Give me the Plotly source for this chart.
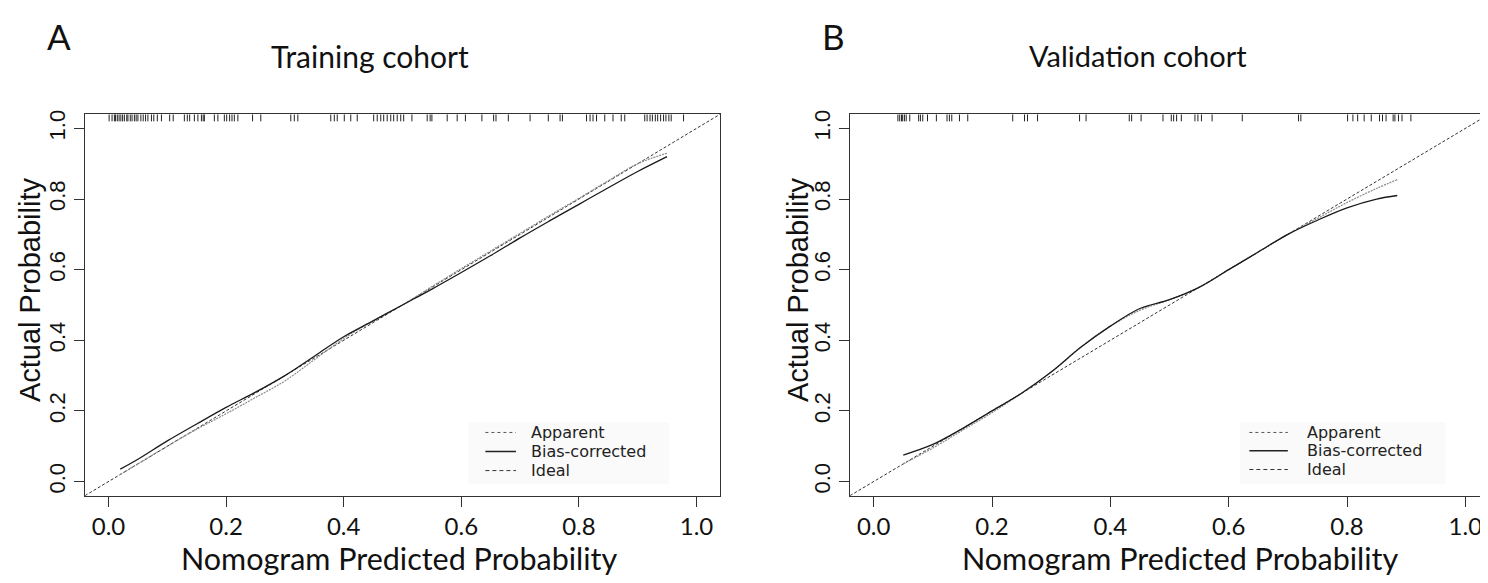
import plotly.graph_objects as go

# ---------------- data ----------------
ticks = [0.0, 0.2, 0.4, 0.6, 0.8, 1.0]
tick_labels = ["0.0", "0.2", "0.4", "0.6", "0.8", "1.0"]
axis_range = [-0.04, 1.04]

train_x = [0.02, 0.05, 0.10, 0.15, 0.20, 0.25, 0.30, 0.35, 0.40, 0.45, 0.50,
           0.55, 0.60, 0.65, 0.70, 0.75, 0.80, 0.85, 0.90, 0.95]
train_apparent = [0.020, 0.050, 0.100, 0.148, 0.192, 0.238, 0.285, 0.345, 0.405, 0.455, 0.500,
                  0.552, 0.603, 0.653, 0.703, 0.753, 0.802, 0.852, 0.900, 0.930]
train_bias = [0.035, 0.063, 0.115, 0.163, 0.210, 0.253, 0.300, 0.355, 0.410, 0.455, 0.500,
              0.545, 0.592, 0.640, 0.690, 0.738, 0.785, 0.832, 0.878, 0.920]

valid_x = [0.05, 0.10, 0.15, 0.20, 0.25, 0.30, 0.35, 0.40, 0.45, 0.50, 0.55,
           0.60, 0.65, 0.70, 0.75, 0.80, 0.85, 0.885]
valid_apparent = [0.050, 0.095, 0.145, 0.195, 0.250, 0.310, 0.380, 0.440, 0.485, 0.515, 0.550,
                  0.600, 0.650, 0.700, 0.745, 0.790, 0.830, 0.855]
valid_bias = [0.075, 0.105, 0.150, 0.200, 0.250, 0.310, 0.380, 0.440, 0.490, 0.515, 0.550,
              0.600, 0.650, 0.700, 0.740, 0.775, 0.800, 0.810]

train_rug = [0.001, 0.006, 0.010, 0.012, 0.015, 0.018, 0.021, 0.024, 0.027, 0.031, 0.033,
             0.037, 0.040, 0.044, 0.047, 0.050, 0.055, 0.059, 0.063, 0.067, 0.073, 0.077,
             0.083, 0.090, 0.104, 0.110, 0.129, 0.134, 0.138, 0.146, 0.152, 0.158, 0.161,
             0.163, 0.180, 0.186, 0.197, 0.201, 0.206, 0.210, 0.214, 0.220, 0.245, 0.259,
             0.310, 0.316, 0.322, 0.378, 0.384, 0.389, 0.401, 0.412, 0.423, 0.451, 0.457,
             0.463, 0.468, 0.474, 0.480, 0.485, 0.491, 0.497, 0.502, 0.516, 0.542, 0.547,
             0.550, 0.576, 0.593, 0.607, 0.635, 0.655, 0.659, 0.680, 0.717, 0.748, 0.768,
             0.772, 0.813, 0.819, 0.824, 0.830, 0.844, 0.858, 0.872, 0.878, 0.912, 0.916,
             0.921, 0.925, 0.930, 0.934, 0.939, 0.944, 0.948, 0.953, 0.957, 0.978]
valid_rug = [0.041, 0.044, 0.047, 0.049, 0.052, 0.055, 0.061, 0.076, 0.079, 0.083, 0.091,
             0.106, 0.124, 0.128, 0.132, 0.145, 0.159, 0.235, 0.255, 0.260, 0.277, 0.348,
             0.359, 0.432, 0.436, 0.452, 0.489, 0.503, 0.507, 0.512, 0.520, 0.543, 0.548,
             0.554, 0.572, 0.623, 0.718, 0.722, 0.801, 0.810, 0.818, 0.829, 0.841, 0.855,
             0.860, 0.866, 0.878, 0.881, 0.887, 0.893, 0.908]

panel_letters = ["A", "B"]
panel_titles = ["Training cohort", "Validation cohort"]
x_title = "Nomogram Predicted Probability"
y_title = "Actual Probability"
legend_names = ["Apparent", "Bias-corrected", "Ideal"]

# ---------------- layout constants ----------------
W, H = 1488, 583
box_top, box_bottom = 103, 487
panels_px = [(77, 712), (842, 1481)]
ydom = [(H - box_bottom) / H, (H - box_top) / H]
RUG_LEN = 0.02  # data units

# legend placement (in each panel's data coordinates)
leg_rows = [[0.139, 0.085, 0.031], [0.139, 0.087, 0.034]]
leg_line_x = [(0.641, 0.693), (0.635, 0.700)]
leg_text_x = [0.717, 0.731]
leg_bg = [(0.612, 0.953, -0.006, 0.168), (0.619, 0.966, -0.006, 0.168)]

LINE_STYLES = [
    dict(color="#8a8a8a", width=1.2, dash="2px,1px"),   # apparent
    dict(color="#1a1a1a", width=1.3),                    # bias-corrected
    dict(color="#333333", width=1.0, dash="3px,2px"),   # ideal
]
LEG_STYLES = [
    dict(color="#555555", width=1.0, dash="dot"),
    dict(color="#222222", width=1.5),
    dict(color="#333333", width=1.0, dash="4px,3px"),
]

fig = go.Figure()


def rug_xy(vals):
    xs, ys = [], []
    top = axis_range[1]
    for v in vals:
        xs += [v, v, None]
        ys += [top, top - RUG_LEN, None]
    return xs, ys


datasets = [
    (train_x, train_apparent, train_bias, train_rug),
    (valid_x, valid_apparent, valid_bias, valid_rug),
]

shapes = []
annotations = []

for i, (xv, app, bias, rug) in enumerate(datasets):
    xa = "x" if i == 0 else "x2"
    ya = "y" if i == 0 else "y2"
    rx, ry = rug_xy(rug)
    fig.add_trace(go.Scatter(x=rx, y=ry, mode="lines", xaxis=xa, yaxis=ya,
                             line=dict(color="#222222", width=1), showlegend=False,
                             hoverinfo="skip"))
    fig.add_trace(go.Scatter(x=axis_range, y=axis_range, mode="lines", xaxis=xa, yaxis=ya,
                             line=LINE_STYLES[2], name=legend_names[2],
                             showlegend=False, hoverinfo="skip"))
    fig.add_trace(go.Scatter(x=xv, y=app, mode="lines", xaxis=xa, yaxis=ya,
                             name=legend_names[0], showlegend=False, line_shape="spline",
                             line=LINE_STYLES[0]))
    fig.add_trace(go.Scatter(x=xv, y=bias, mode="lines", xaxis=xa, yaxis=ya,
                             name=legend_names[1], showlegend=False, line_shape="spline",
                             line=LINE_STYLES[1]))

    # manual legend
    x0, x1, y0, y1 = leg_bg[i]
    shapes.append(dict(type="rect", xref=xa, yref=ya, x0=x0, x1=x1, y0=y0, y1=y1,
                       fillcolor="#fafafa", line=dict(width=0), layer="below"))
    for k in range(3):
        yk = leg_rows[i][k]
        shapes.append(dict(type="line", xref=xa, yref=ya,
                           x0=leg_line_x[i][0], x1=leg_line_x[i][1], y0=yk, y1=yk,
                           line=LEG_STYLES[k]))
        annotations.append(dict(text=legend_names[k], xref=xa, yref=ya,
                                x=leg_text_x[i], y=yk, showarrow=False,
                                xanchor="left", yanchor="middle", borderpad=0,
                                font=dict(family="DejaVu Sans", size=16,
                                          color="#222222")))

axis_common = dict(range=axis_range, showgrid=False, zeroline=False, showline=True,
                   mirror=True, linecolor="#333333", linewidth=1, ticks="outside",
                   ticklen=10, tickcolor="#333333", tickvals=ticks, ticktext=tick_labels)

for i, (l, r) in enumerate(panels_px):
    sfx = "" if i == 0 else "2"
    fig.update_layout(**{
        "xaxis" + sfx: dict(axis_common, domain=[l / W, r / W], anchor="y" + sfx,
                            tickfont=dict(family="Lato", size=24, color="#111111")),
        "yaxis" + sfx: dict(axis_common, domain=ydom, anchor="x" + sfx, tickangle=-90,
                            tickfont=dict(family="Liberation Sans, Arial", size=22,
                                          color="#111111")),
    })

letter_x = [51, 826]
title_x = [362, 1130]
title_size = [30, 29]
xtitle_x = [391, 1172]
ytitle_x = [22, 790]
for i in range(2):
    annotations.append(dict(text=panel_letters[i], x=letter_x[i] / W, y=1 - 24 / H,
                            xref="paper", yref="paper", showarrow=False,
                            font=dict(family="Lato", size=35, color="#111111"),
                            xanchor="center", yanchor="middle"))
    annotations.append(dict(text=panel_titles[i], x=title_x[i] / W, y=1 - 44 / H,
                            xref="paper", yref="paper", showarrow=False,
                            font=dict(family="Lato", size=title_size[i], color="#111111"),
                            xanchor="center", yanchor="middle"))
    annotations.append(dict(text=x_title, x=xtitle_x[i] / W, y=1 - 550 / H,
                            xref="paper", yref="paper", showarrow=False,
                            font=dict(family="Lato", size=30.5, color="#111111"),
                            xanchor="center", yanchor="middle"))
    annotations.append(dict(text=y_title, x=ytitle_x[i] / W, y=1 - 280 / H,
                            xref="paper", yref="paper", showarrow=False, textangle=-90,
                            font=dict(family="Liberation Sans, Arial", size=29,
                                      color="#111111"),
                            xanchor="center", yanchor="middle"))

fig.update_layout(
    width=W, height=H, margin=dict(l=0, r=0, t=0, b=0),
    paper_bgcolor="white", plot_bgcolor="white",
    showlegend=False,
    annotations=annotations,
    shapes=shapes,
)

fig.write_html("out.html")
